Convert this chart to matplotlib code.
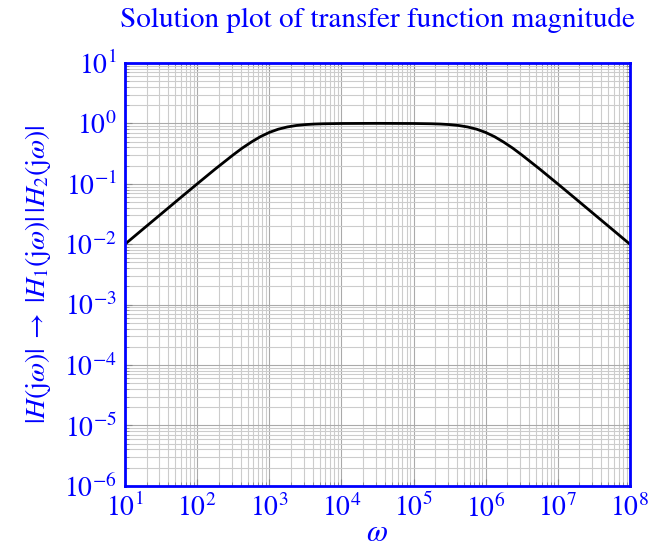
import matplotlib
matplotlib.use("Agg")
import matplotlib.pyplot as plt
from matplotlib.ticker import LogLocator, NullFormatter

plt.rcParams['mathtext.fontset'] = 'stix'
plt.rcParams['font.family'] = 'STIXGeneral'

# curve samples (denser near the two corners)
log_omega = [1.0, 1.25, 1.5, 1.75, 2.0, 2.25, 2.5, 2.625, 2.75, 2.875,
             3.0, 3.125, 3.25, 3.375, 3.5, 3.625, 3.75, 4.0, 4.5,
             5.0, 5.25, 5.375, 5.5, 5.625, 5.75, 5.875, 6.0, 6.125,
             6.25, 6.375, 6.5, 6.75, 7.0, 7.25, 7.5, 7.75, 8.0]
mag = [0.0100, 0.0178, 0.0316, 0.0562, 0.0995, 0.175, 0.301, 0.389, 0.489, 0.600,
       0.707, 0.800, 0.871, 0.921, 0.953, 0.973, 0.984, 0.994, 0.999,
       0.994, 0.984, 0.973, 0.953, 0.921, 0.871, 0.800, 0.707, 0.600,
       0.489, 0.389, 0.301, 0.175, 0.0995, 0.0562, 0.0316, 0.0178, 0.0100]
omega = [10 ** v for v in log_omega]

xlim = (1e1, 1e8)
ylim = (1e-6, 1e1)

blue = '#0000ff'

fig = plt.figure(figsize=(6.48, 5.52), dpi=100)
ax = fig.add_axes([0.193, 0.120, 0.779, 0.766])

ax.loglog(omega, mag, color='black', linewidth=2)
ax.set_xlim(*xlim)
ax.set_ylim(*ylim)

ax.xaxis.set_major_locator(LogLocator(base=10, numticks=20))
ax.yaxis.set_major_locator(LogLocator(base=10, numticks=20))
ax.xaxis.set_minor_locator(LogLocator(base=10, subs=range(2, 10), numticks=20))
ax.yaxis.set_minor_locator(LogLocator(base=10, subs=range(2, 10), numticks=20))
ax.xaxis.set_minor_formatter(NullFormatter())
ax.yaxis.set_minor_formatter(NullFormatter())

ax.grid(which='major', color='#aaaaaa', linewidth=0.8)
ax.grid(which='minor', color='#cccccc', linewidth=0.8)
ax.set_axisbelow(True)

ax.tick_params(which='both', direction='in', color='#888888', labelcolor=blue,
               labelsize=20, top=True, right=True)
ax.tick_params(which='major', length=5)
ax.tick_params(which='minor', length=3)
ax.tick_params(axis='x', pad=6)
ax.tick_params(axis='y', pad=6)

for s in ax.spines.values():
    s.set_color(blue)
    s.set_linewidth(2)

ax.set_title('Solution plot of transfer function magnitude', color=blue,
             fontsize=21, pad=26)
ax.set_xlabel(r'$\omega$', color=blue, fontsize=22, labelpad=-2)
ax.set_ylabel(r'$|H(\mathrm{j}\omega)|\;\rightarrow\;|H_1(\mathrm{j}\omega)|\,|H_2(\mathrm{j}\omega)|$',
              color=blue, fontsize=20, labelpad=8)

fig.savefig('out.png', dpi=100)
